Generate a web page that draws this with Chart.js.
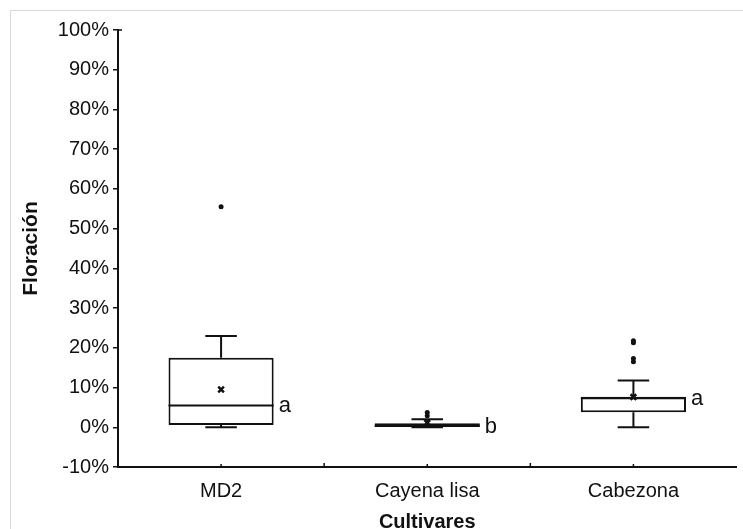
<!DOCTYPE html>
<html>
<head>
<meta charset="utf-8">
<script src="https://cdn.jsdelivr.net/npm/chart.js@4.4.0/dist/chart.umd.min.js"></script>
<style>
  html, body { margin: 0; padding: 0; background: #fff; overflow: hidden; }
  #frame { position: absolute; left: 10px; top: 10px; width: 800px; height: 600px; border: 1px solid #d9d9d9; }
  #wrap { position: absolute; left: 0; top: 0; width: 743px; height: 529px; }
</style>
</head>
<body>
<div id="frame"></div>
<div id="wrap"><canvas id="boxChart" width="743" height="529"></canvas></div>
<script>
// cultivars and box plot summary values (in %)
const categories = ['MD2', 'Cayena lisa', 'Cabezona'];
const q1 = [0.6, 0.1, 3.8];
const q3 = [17.5, 1.0, 7.7];
const medians = [5.5, 0.4, 7.3];
const means = [9.5, 1.1, 7.6];
const whiskerLow = [0, 0, 0];
const whiskerHigh = [23, 2, 11.8];
const outliersMD2 = [55.5];
const outliersCayena = [2.9, 3.7];
const outliersCabezona = [16.5, 17.3, 21.3, 21.8];
const letters = ['a', 'b', 'a'];
const yTicks = [-10, 0, 10, 20, 30, 40, 50, 60, 70, 80, 90, 100];

const ink = '#111';
const fontFamily = '"Liberation Sans", Arial, sans-serif';

const outlierPoints = [
    ...outliersMD2.map((v) => ({ x: categories[0], y: v })),
    ...outliersCayena.map((v) => ({ x: categories[1], y: v })),
    ...outliersCabezona.map((v) => ({ x: categories[2], y: v })),
];
const meanPoints = means.map((v, i) => ({ x: categories[i], y: v }));

const boxPlugin = {
    id: 'boxParts',
    beforeDatasetsDraw(chart) {
        const ctx = chart.ctx;
        const y = chart.scales.y;
        const bars = chart.getDatasetMeta(0).data;
        ctx.save();
        ctx.strokeStyle = ink;
        ctx.lineWidth = 2;
        bars.forEach((bar, i) => {
            const cx = bar.x;
            const half = bar.width * 0.15;
            // upper whisker
            ctx.beginPath();
            ctx.moveTo(cx, y.getPixelForValue(q3[i]));
            ctx.lineTo(cx, y.getPixelForValue(whiskerHigh[i]));
            ctx.moveTo(cx - half, y.getPixelForValue(whiskerHigh[i]));
            ctx.lineTo(cx + half, y.getPixelForValue(whiskerHigh[i]));
            // lower whisker
            ctx.moveTo(cx, y.getPixelForValue(q1[i]));
            ctx.lineTo(cx, y.getPixelForValue(whiskerLow[i]));
            ctx.moveTo(cx - half, y.getPixelForValue(whiskerLow[i]));
            ctx.lineTo(cx + half, y.getPixelForValue(whiskerLow[i]));
            ctx.stroke();
        });
        ctx.restore();
    },
    afterDatasetsDraw(chart) {
        const ctx = chart.ctx;
        const y = chart.scales.y;
        const bars = chart.getDatasetMeta(0).data;
        ctx.save();
        ctx.strokeStyle = ink;
        ctx.lineWidth = 2;
        bars.forEach((bar, i) => {
            const left = bar.x - bar.width / 2;
            const right = bar.x + bar.width / 2;
            const my = y.getPixelForValue(medians[i]);
            ctx.beginPath();
            ctx.moveTo(left, my);
            ctx.lineTo(right, my);
            ctx.stroke();
            // significance letter
            ctx.fillStyle = ink;
            ctx.font = '22px ' + fontFamily;
            ctx.textAlign = 'left';
            ctx.textBaseline = 'middle';
            ctx.fillText(letters[i], right + 5, my + 1);
        });
        ctx.restore();
    },
    afterDraw(chart) {
        const ctx = chart.ctx;
        const x = chart.scales.x;
        const y = chart.scales.y;
        const base = chart.chartArea.bottom;
        ctx.save();
        ctx.strokeStyle = ink;
        ctx.lineWidth = 1.5;
        ctx.beginPath();
        categories.forEach((c, i) => {
            const px = x.getPixelForValue(i);
            ctx.moveTo(px, base);
            ctx.lineTo(px, base - 3);
            if (i > 0) {
                const bx = x.getPixelForValue(i - 0.5);
                ctx.moveTo(bx, base);
                ctx.lineTo(bx, base - 4);
            }
        });
        // small tick at the top of the value axis
        const top = y.getPixelForValue(100);
        ctx.moveTo(chart.chartArea.left, top);
        ctx.lineTo(chart.chartArea.left + 4, top);
        ctx.stroke();
        ctx.restore();
    }
};

new Chart(document.getElementById('boxChart').getContext('2d'), {
    type: 'bar',
    data: {
        labels: categories,
        datasets: [
            {
                label: 'Caja',
                data: q1.map((v, i) => [v, q3[i]]),
                backgroundColor: '#fff',
                borderColor: ink,
                borderWidth: 2,
                borderSkipped: false,
                categoryPercentage: 1,
                barPercentage: 0.51,
                order: 3,
            },
            {
                type: 'line',
                label: 'Atípicos',
                data: outlierPoints,
                showLine: false,
                pointStyle: 'circle',
                pointRadius: 2.5,
                pointBackgroundColor: ink,
                pointBorderColor: ink,
                pointBorderWidth: 0,
                order: 2,
            },
            {
                type: 'line',
                label: 'Media',
                data: meanPoints,
                showLine: false,
                pointStyle: 'crossRot',
                pointRadius: 4,
                pointBorderColor: ink,
                pointBorderWidth: 2.5,
                order: 1,
            },
        ],
    },
    options: {
        responsive: false,
        animation: false,
        events: [],
        layout: { padding: { top: 30, right: 0, left: 0, bottom: 0 } },
        plugins: { legend: { display: false }, tooltip: { enabled: false } },
        scales: {
            x: {
                offset: true,
                grid: { display: false },
                border: { display: true, color: ink, width: 2 },
                ticks: {
                    color: ink,
                    padding: 4,
                    font: { family: fontFamily, size: 20 },
                },
                title: {
                    display: true,
                    text: 'Cultivares',
                    color: ink,
                    padding: { top: 0, bottom: -3 },
                    font: { family: fontFamily, size: 20, weight: 'bold', lineHeight: 1 },
                },
                afterFit(scale) { scale.height = 62; },
            },
            y: {
                min: -10,
                max: 100,
                afterBuildTicks(scale) { scale.ticks = yTicks.map((v) => ({ value: v })); },
                grid: { display: true, drawOnChartArea: false, drawTicks: true, tickLength: 5, color: ink, lineWidth: 1.5 },
                border: { display: true, color: ink, width: 2 },
                ticks: {
                    color: ink,
                    padding: 4,
                    font: { family: fontFamily, size: 20 },
                    callback: (v) => v + '%',
                },
                title: {
                    display: true,
                    text: 'Floración',
                    color: ink,
                    padding: { top: 21, bottom: 0 },
                    font: { family: fontFamily, size: 21, weight: 'bold', lineHeight: 1 },
                },
                afterFit(scale) { scale.width = 118; },
            },
        },
    },
    plugins: [boxPlugin],
});
</script>
</body>
</html>
